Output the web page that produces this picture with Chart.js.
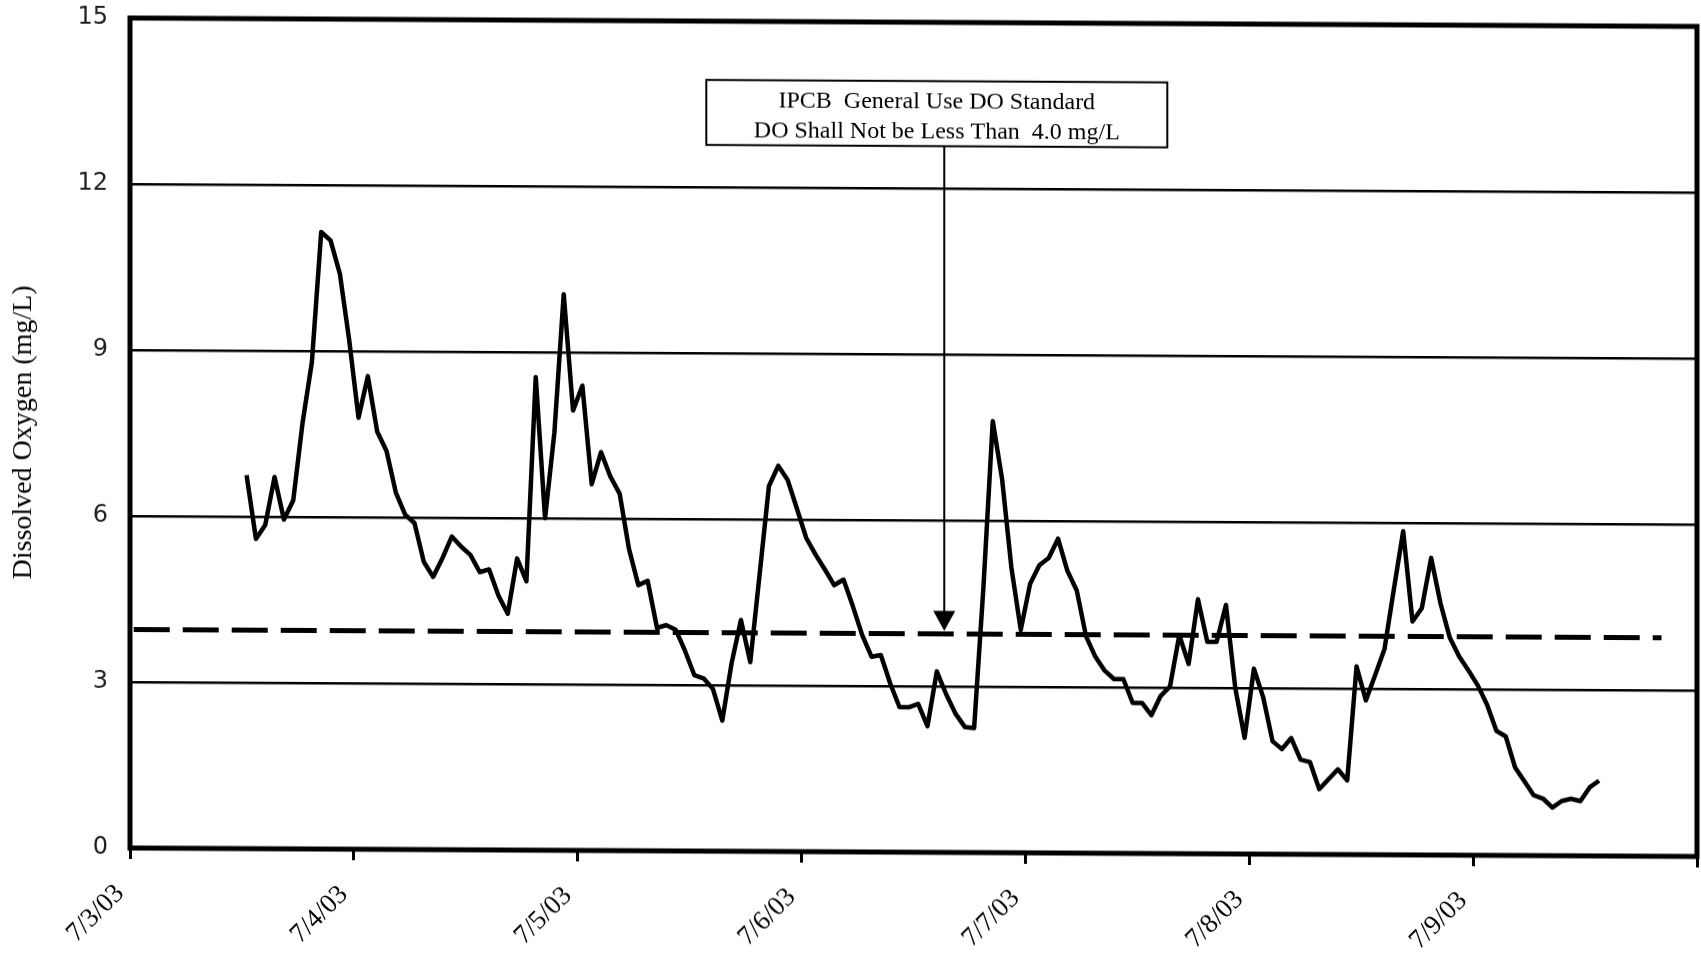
<!DOCTYPE html>
<html>
<head>
<meta charset="utf-8">
<script src="https://cdn.jsdelivr.net/npm/chart.js@4.4.0/dist/chart.umd.min.js"></script>
<style>
    html, body { margin: 0; padding: 0; background: #fff; }
    #wrap { width: 1701px; height: 957px; }
    /* the scanned original is slightly skewed */
    canvas { transform: skewY(0.31deg); transform-origin: 130px 0; }
</style>
</head>
<body>
<div id="wrap"><canvas id="doChart" width="1701" height="957"></canvas></div>
<script>
// hourly readings, hours counted from midnight 7/3/03
const startHour = 12.5;
const doValues = [
    6.75, 5.6, 5.85, 6.72, 5.95, 6.3, 7.7, 8.8, 11.15, 11.0,
    10.4, 9.2, 7.8, 8.55, 7.55, 7.2, 6.45, 6.05, 5.9, 5.2,
    4.93, 5.27, 5.66, 5.48, 5.33, 5.02, 5.07, 4.6, 4.27, 5.27,
    4.86, 8.55, 6.0, 7.55, 10.05, 7.95, 8.4, 6.62, 7.2, 6.76,
    6.45, 5.45, 4.8, 4.88, 4.03, 4.08, 4.0, 3.62, 3.18, 3.12,
    2.93, 2.36, 3.4, 4.18, 3.42, 5.0, 6.6, 6.97, 6.72, 6.2,
    5.67, 5.37, 5.1, 4.82, 4.92, 4.44, 3.92, 3.53, 3.56, 3.05,
    2.62, 2.62, 2.68, 2.28, 3.27, 2.86, 2.51, 2.27, 2.25, 4.8,
    7.8, 6.75, 5.15, 4.03, 4.86, 5.2, 5.33, 5.68, 5.1, 4.75,
    3.92, 3.55, 3.3, 3.15, 3.15, 2.72, 2.72, 2.5, 2.85, 3.02,
    3.95, 3.43, 4.6, 3.83, 3.83, 4.5, 3.0, 2.1, 3.35, 2.83,
    2.04, 1.9, 2.1, 1.71, 1.67, 1.18, 1.36, 1.54, 1.34, 3.4,
    2.79, 3.25, 3.72, 4.8, 5.85, 4.22, 4.46, 5.37, 4.55, 3.93,
    3.59, 3.34, 3.07, 2.72, 2.25, 2.15, 1.59, 1.34, 1.09, 1.03,
    0.87, 0.99, 1.03, 0.99, 1.24, 1.36
];
const dayLabels = ['7/3/03', '7/4/03', '7/5/03', '7/6/03', '7/7/03', '7/8/03', '7/9/03'];
const yMin = 0, yMax = 15, yStep = 3;

// IPCB standard line and its note
const standardValue = 3.95;
const standardRange = [0.4, 164.2];
const noteLines = ['IPCB  General Use DO Standard', 'DO Shall Not be Less Than  4.0 mg/L'];
const noteCenter = [86.5, 13.35];
const arrowHour = 87.3;

const doPoints = doValues.map((v, i) => ({ x: startHour + i, y: v }));
const standardPoints = standardRange.map(h => ({ x: h, y: standardValue }));

const framePlugin = {
    id: 'frame',
    afterDatasetsDraw(chart) {
        const { ctx, chartArea: a, scales: { x, y } } = chart;
        ctx.save();
        ctx.strokeStyle = '#000';
        ctx.lineWidth = 5;
        ctx.strokeRect(a.left, a.top, a.right - a.left, a.bottom - a.top);

        // note box
        const cx = x.getPixelForValue(noteCenter[0]);
        const cy = y.getPixelForValue(noteCenter[1]);
        const bw = 461, bh = 65;
        ctx.fillStyle = '#fff';
        ctx.fillRect(cx - bw / 2, cy - bh / 2, bw, bh);
        ctx.lineWidth = 2;
        ctx.strokeRect(cx - bw / 2, cy - bh / 2, bw, bh);
        ctx.fillStyle = '#000';
        ctx.font = '24px "Liberation Serif"';
        ctx.textAlign = 'center';
        ctx.textBaseline = 'middle';
        ctx.fillText(noteLines[0], cx, cy - 12);
        ctx.fillText(noteLines[1], cx, cy + 18);

        // arrow down to the standard line
        const ax = x.getPixelForValue(arrowHour);
        const tip = y.getPixelForValue(standardValue) - 3;
        ctx.beginPath();
        ctx.moveTo(ax, cy + bh / 2);
        ctx.lineTo(ax, tip - 18);
        ctx.stroke();
        ctx.beginPath();
        ctx.moveTo(ax - 11, tip - 20);
        ctx.lineTo(ax + 11, tip - 20);
        ctx.lineTo(ax, tip);
        ctx.closePath();
        ctx.fill();
        ctx.restore();
    }
};

const ctx = document.getElementById('doChart').getContext('2d');
const doChart = new Chart(ctx, {
    type: 'line',
    data: {
        datasets: [{
            label: 'Dissolved Oxygen',
            data: doPoints,
            borderColor: '#000',
            borderWidth: 4.5,
            pointRadius: 0,
            tension: 0,
            borderJoinStyle: 'round'
        }, {
            label: 'Standard',
            data: standardPoints,
            borderColor: '#000',
            borderWidth: 5,
            borderDash: [36, 13],
            pointRadius: 0
        }]
    },
    options: {
        responsive: false,
        animation: false,
        layout: { padding: { top: 18, right: 4, left: 0, bottom: 0 } },
        plugins: {
            legend: { display: false },
            tooltip: { enabled: false }
        },
        scales: {
            x: {
                type: 'linear',
                min: 0,
                max: 168,
                afterFit: function (scale) {
                    scale.height = 109;
                    scale.paddingLeft = 0;
                    scale.paddingRight = 0;
                },
                border: { display: false },
                grid: {
                    drawOnChartArea: false,
                    drawTicks: true,
                    tickLength: 11,
                    tickWidth: 3,
                    tickColor: '#000'
                },
                ticks: {
                    stepSize: 24,
                    autoSkip: false,
                    maxRotation: 45,
                    minRotation: 45,
                    padding: 19,
                    labelOffset: -10,
                    color: '#000',
                    font: { family: '"Liberation Serif"', size: 27 },
                    callback: function (value) {
                        return dayLabels[value / 24] || '';
                    }
                }
            },
            y: {
                min: yMin,
                max: yMax,
                afterFit: function (scale) {
                    scale.width = 130;
                    scale.paddingTop = 0;
                    scale.paddingBottom = 0;
                },
                border: { display: false },
                grid: {
                    drawTicks: false,
                    color: '#000',
                    lineWidth: function (c) {
                        return (c.tick.value === yMin || c.tick.value === yMax) ? 0 : 2.5;
                    }
                },
                ticks: {
                    stepSize: yStep,
                    padding: 22,
                    color: '#222',
                    font: { family: '"DejaVu Sans"', size: 24 }
                },
                title: {
                    display: true,
                    text: 'Dissolved Oxygen (mg/L)',
                    color: '#000',
                    padding: { top: 7, bottom: 0 },
                    font: { family: '"Liberation Serif"', size: 28 }
                }
            }
        }
    },
    plugins: [framePlugin]
});
</script>
</body>
</html>
